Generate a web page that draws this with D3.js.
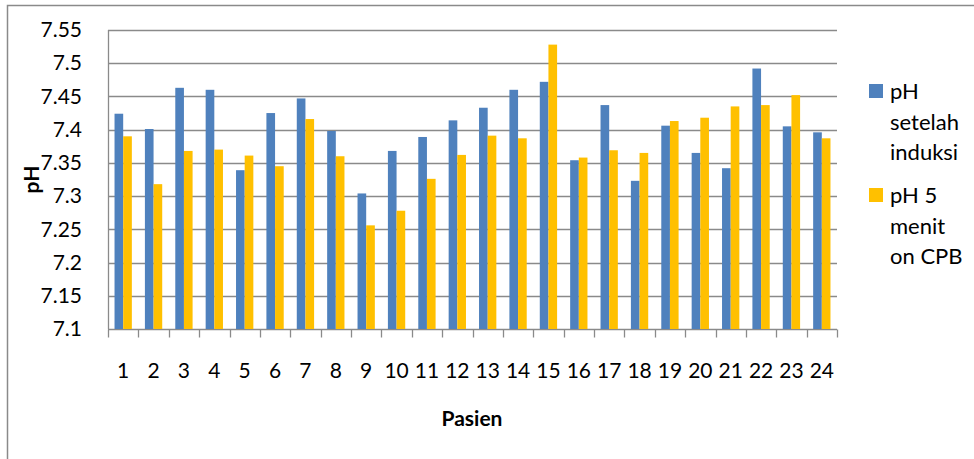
<!DOCTYPE html>
<html>
<head>
<meta charset="utf-8">
<script src="https://cdn.jsdelivr.net/npm/d3@7"></script>
<style>
  html, body { margin: 0; padding: 0; background: #fff; }
  svg { display: block; font-family: Lato, "Open Sans", sans-serif; }
</style>
</head>
<body>
<svg id="chart" width="974" height="459"></svg>
<script>
const categories = ["1","2","3","4","5","6","7","8","9","10","11","12","13","14","15","16","17","18","19","20","21","22","23","24"];
const seriesNames = ["pH setelah induksi", "pH 5 menit on CPB"];
const phSetelahInduksi = [7.424,7.401,7.463,7.460,7.339,7.425,7.447,7.398,7.304,7.368,7.389,7.414,7.433,7.460,7.472,7.354,7.437,7.323,7.406,7.365,7.342,7.492,7.405,7.396];
const ph5MenitOnCPB   = [7.390,7.318,7.368,7.370,7.361,7.345,7.416,7.360,7.256,7.278,7.326,7.362,7.391,7.387,7.528,7.358,7.369,7.365,7.413,7.418,7.435,7.437,7.452,7.387];
const yTicks = [7.1,7.15,7.2,7.25,7.3,7.35,7.4,7.45,7.5,7.55];
const legendLines = [["pH","setelah","induksi"],["pH 5","menit","on CPB"]];
const colors = ["#4F81BD", "#FFC000"];

const svg = d3.select("#chart");
const plotLeft = 108, plotRight = 837, plotTop = 30, plotBottom = 329;
const gridColor = "#8a8a8a";

// outer border
svg.append("rect").attr("x", 7.5).attr("y", 5.5).attr("width", 1000).attr("height", 1000)
  .attr("fill", "none").attr("stroke", gridColor).attr("stroke-width", 1.5);

const x = d3.scaleBand().domain(categories).range([plotLeft, plotRight]).paddingInner(0).paddingOuter(0);
const bw = x.bandwidth();
const x1 = d3.scaleBand().domain(seriesNames).range([bw * 0.215, bw * 0.785]).padding(0);
const y = d3.scaleLinear().domain([7.1, 7.55]).range([plotBottom, plotTop]);

// gridlines
svg.append("g").selectAll("line").data(yTicks).join("line")
  .attr("x1", plotLeft).attr("x2", plotRight)
  .attr("y1", d => Math.round(y(d)) + 0.5).attr("y2", d => Math.round(y(d)) + 0.5)
  .attr("stroke", gridColor).attr("stroke-width", 1.3);

// bars
const data = categories.map((c, i) => ({ c, vals: [phSetelahInduksi[i], ph5MenitOnCPB[i]] }));
const groups = svg.append("g").selectAll("g").data(data).join("g")
  .attr("transform", d => `translate(${x(d.c)},0)`);
groups.selectAll("rect").data(d => d.vals.map((v, k) => ({ v, k }))).join("rect")
  .attr("x", d => x1(seriesNames[d.k]))
  .attr("width", x1.bandwidth())
  .attr("y", d => y(d.v))
  .attr("height", d => y(7.1) - y(d.v))
  .attr("fill", d => colors[d.k]);

// y axis
const yAxis = svg.append("g").attr("transform", `translate(${plotLeft},0)`)
  .call(d3.axisLeft(y).tickValues(yTicks).tickSize(0).tickPadding(26).tickFormat(d3.format("")));
yAxis.select(".domain").attr("stroke", gridColor).attr("stroke-width", 1.3).attr("d", `M0.5,${plotTop}V${plotBottom}`);
yAxis.selectAll("text").attr("font-size", 21).attr("fill", "#000").attr("font-family", "Lato, sans-serif");

// x axis
const xAxis = svg.append("g").attr("transform", `translate(0,${Math.round(y(7.1)) + 0.5})`)
  .call(d3.axisBottom(x).tickSize(0).tickPadding(34));
xAxis.select(".domain").remove();
xAxis.selectAll("text").attr("font-size", 21).attr("fill", "#000").attr("font-family", "Lato, sans-serif");
const bounds = categories.map(c => x(c)).concat([plotRight]);
xAxis.selectAll("line.bt").data(bounds).join("line").attr("class", "bt")
  .attr("x1", d => Math.round(d) + 0.5).attr("x2", d => Math.round(d) + 0.5)
  .attr("y1", 0).attr("y2", 8).attr("stroke", gridColor).attr("stroke-width", 1.3);

// axis titles
svg.append("text").attr("x", 472).attr("y", 426).attr("text-anchor", "middle")
  .attr("font-weight", "bold").attr("font-size", 21).text("Pasien");
svg.append("text").attr("transform", `translate(39,${(plotTop + plotBottom) / 2}) rotate(-90)`)
  .attr("text-anchor", "middle").attr("font-weight", "bold").attr("font-size", 21).text("pH");

// legend
const legY = [84, 188];
const leg = svg.append("g").selectAll("g").data(seriesNames).join("g")
  .attr("transform", (d, i) => `translate(869,${legY[i]})`);
leg.append("rect").attr("width", 14).attr("height", 14).attr("fill", (d, i) => colors[i]);
leg.each(function(d, i) {
  const t = d3.select(this).append("text").attr("x", 21).attr("y", 15).attr("font-size", 22).attr("fill", "#000");
  legendLines[i].forEach((ln, j) => t.append("tspan").attr("x", 21).attr("dy", j === 0 ? 0 : 30.5).text(ln));
});
</script>
</body>
</html>
